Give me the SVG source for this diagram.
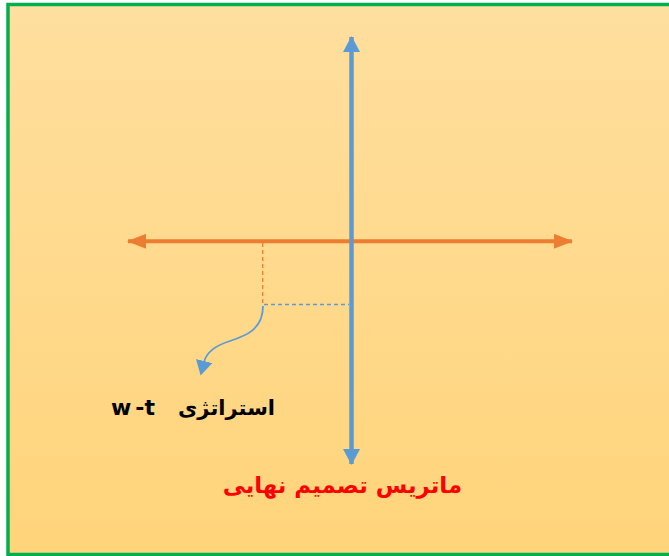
<svg xmlns="http://www.w3.org/2000/svg" width="669" height="556" viewBox="0 0 669 556">
<defs>
<linearGradient id="bg" x1="0" y1="0" x2="0" y2="1">
<stop offset="0" stop-color="#FFDF9F"/>
<stop offset="1" stop-color="#FFD47A"/>
</linearGradient>
<marker id="ab" viewBox="0 0 16 17" refX="15" refY="8.5" markerWidth="16" markerHeight="17" orient="auto-start-reverse" markerUnits="userSpaceOnUse">
<path d="M0,0 L16,8.5 L0,17 Z" fill="#5B9BD5"/>
</marker>
<marker id="ao" viewBox="0 0 19 15" refX="18" refY="7.5" markerWidth="19" markerHeight="15" orient="auto-start-reverse" markerUnits="userSpaceOnUse">
<path d="M0,0 L19,7.5 L0,15 Z" fill="#ED7D31"/>
</marker>
<marker id="ac" viewBox="0 0 15 17" refX="1" refY="8.5" markerWidth="15" markerHeight="17" orient="auto" markerUnits="userSpaceOnUse">
<path d="M0,0 L15,8.5 L0,17 Z" fill="#5B9BD5"/>
</marker>
<style>
.t{font-family:"DejaVu Sans",sans-serif;font-weight:bold;}
</style>
</defs>
<rect x="8" y="4.5" width="664" height="550" fill="url(#bg)" stroke="#00B050" stroke-width="3.5"/>
<g id="connectors">
<line x1="128" y1="241.3" x2="572" y2="241.3" stroke="#ED7D31" stroke-width="4" marker-start="url(#ao)" marker-end="url(#ao)"/>
<line x1="351.5" y1="37" x2="351.5" y2="464" stroke="#5B9BD5" stroke-width="4.5" marker-start="url(#ab)" marker-end="url(#ab)"/>
<line x1="262.7" y1="243" x2="262.7" y2="305" stroke="#ED7D31" stroke-width="1.3" stroke-dasharray="4,3"/>
<line x1="264" y1="304.5" x2="349" y2="304.5" stroke="#5B9BD5" stroke-width="1.3" stroke-dasharray="4,3"/>
<path d="M263,306 C263,330 245,336 230,341 C214,346 206,354 204,362" fill="none" stroke="#5B9BD5" stroke-width="1.8" marker-end="url(#ac)"/>
</g>
<g id="label-wt">
<text class="t" x="275" y="415" font-size="21" fill="#000" direction="rtl" text-anchor="start">استراتژی</text>
<text class="t" x="111" y="415" font-size="22" fill="#000">w<tspan dx="4">-t</tspan></text>
</g>
<g id="label-matrix">
<text class="t" x="462" y="493" font-size="22.8" fill="#FF0000" direction="rtl" text-anchor="start">ماتریس تصمیم نهایی</text>
</g>
</svg>
